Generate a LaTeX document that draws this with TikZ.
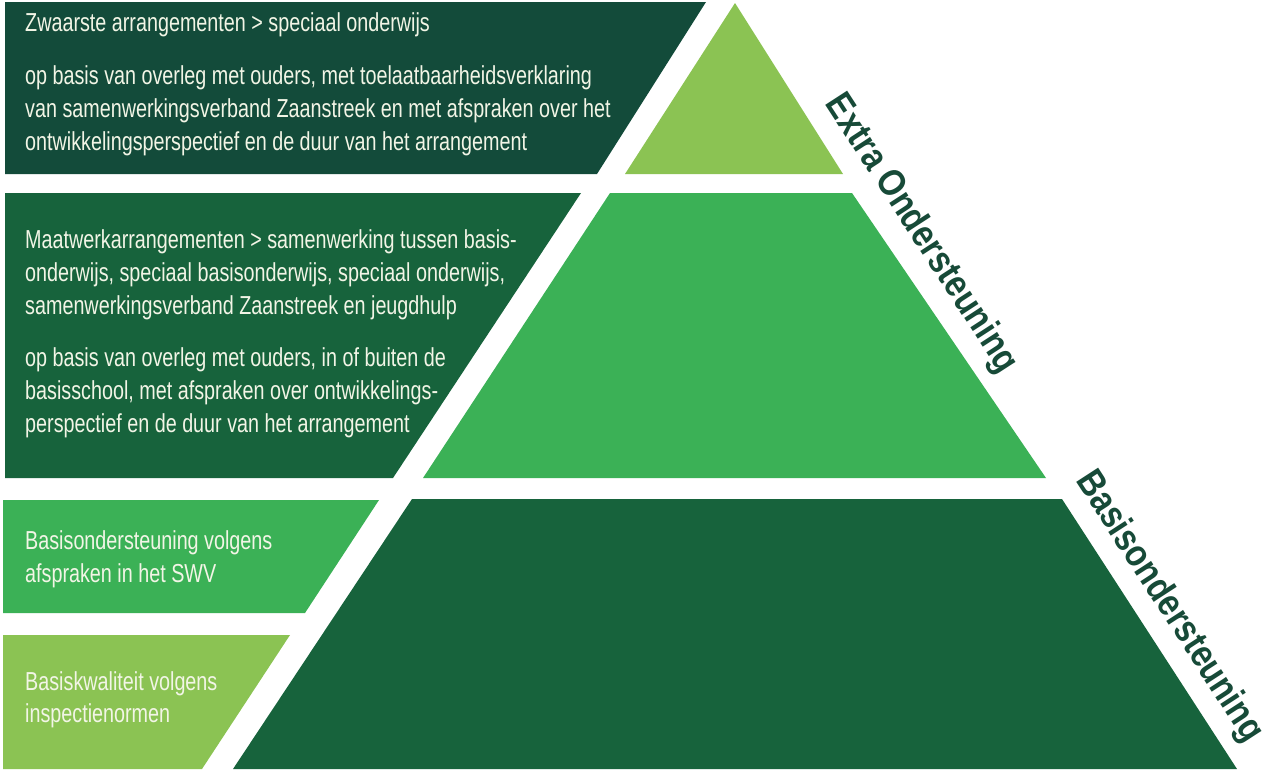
\documentclass[tikz,border=0pt]{standalone}
\usepackage{fontspec}
\setmainfont{Liberation Sans}[FakeStretch=0.76]
\newfontfamily\labelfont{Liberation Sans}[FakeStretch=0.86]
\definecolor{topbox}{HTML}{134B3A}
\definecolor{darkg}{HTML}{17633C}
\definecolor{midg}{HTML}{3BB156}
\definecolor{lightg}{HTML}{8BC353}
\definecolor{labelc}{HTML}{174A38}
\definecolor{txt}{HTML}{F2F5E6}
\begin{document}
\begin{tikzpicture}[x=1pt,y=-1pt,
  boxtext/.style={anchor=base west,inner sep=0pt,text=txt,font=\fontsize{26}{33}\selectfont},
  sidelabel/.style={inner sep=0pt,text=labelc,font=\labelfont\bfseries\fontsize{38}{40}\selectfont,rotate=-57}]
\useasboundingbox (0,0) rectangle (1269,769);
% left boxes
\fill[topbox] (5,2) -- (706,2) -- (597,174) -- (5,174) -- cycle;
\fill[darkg] (5,193) -- (581,193) -- (393,478) -- (5,478) -- cycle;
\fill[midg] (3,500) -- (379,500) -- (305,613) -- (3,613) -- cycle;
\fill[lightg] (3,635) -- (290,635) -- (202,769) -- (3,769) -- cycle;
% pyramid
\fill[lightg] (735,3) -- (843,174) -- (625,174) -- cycle;
\fill[midg] (610,193) -- (852,193) -- (1046,478) -- (423,478) -- cycle;
\fill[darkg] (412,499) -- (1062,499) -- (1237,769) -- (233,769) -- cycle;
% texts top box
\node[boxtext] (t1) at (25,31) {Zwaarste arrangementen > speciaal onderwijs};
\node[boxtext] (t2) at (25,84) {op basis van overleg met ouders, met toelaatbaarheidsverklaring};
\node[boxtext] (t3) at (25,117) {van samenwerkingsverband Zaanstreek en met afspraken over het};
\node[boxtext] (t4) at (25,150) {ontwikkelingsperspectief en de duur van het arrangement};
% texts middle box
\node[boxtext] (m1) at (25,248) {Maatwerkarrangementen > samenwerking tussen basis-};
\node[boxtext] (m2) at (25,281) {onderwijs, speciaal basisonderwijs, speciaal onderwijs,};
\node[boxtext] (m3) at (25,314) {samenwerkingsverband Zaanstreek en jeugdhulp};
\node[boxtext] (m4) at (25,366) {op basis van overleg met ouders, in of buiten de};
\node[boxtext] (m5) at (25,399) {basisschool, met afspraken over ontwikkelings-};
\node[boxtext] (m6) at (25,432) {perspectief en de duur van het arrangement};
% bottom boxes
\node[boxtext] (b1) at (25,549) {Basisondersteuning volgens};
\node[boxtext] (b2) at (25,582) {afspraken in het SWV};
\node[boxtext] (q1) at (25,690) {Basiskwaliteit volgens};
\node[boxtext] (q2) at (25,722) {inspectienormen};
% side labels
\node[sidelabel] (extra) at (921,234) {Extra Ondersteuning};
\node[sidelabel] (basis) at (1169,607) {Basisondersteuning};
\end{tikzpicture}
\end{document}
